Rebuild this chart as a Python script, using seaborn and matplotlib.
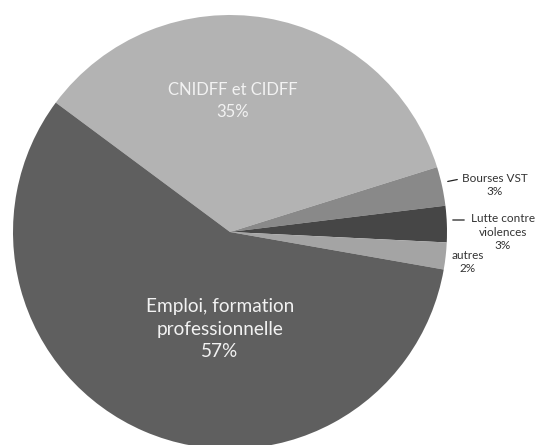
import seaborn as sns
import matplotlib.pyplot as plt

# Repartition (parts)
categories = ['CNIDFF et CIDFF', 'Bourses VST', 'Lutte contre\nviolences', 'autres',
              'Emploi, formation\nprofessionnelle']
values = [35.0, 2.9, 2.7, 2.0, 57.4]
pct_labels = ['35%', '3%', '3%', '2%', '57%']
colors = ['#b3b3b3', '#898989', '#464646', '#a4a4a4', '#5f5f5f']

sns.set_theme(style='white')
plt.rcParams['font.family'] = ['Lato', 'DejaVu Sans']

fig = plt.figure(figsize=(5.41, 4.45), dpi=100)
ax = fig.add_axes([0, 0, 1, 1])

wedges, _ = ax.pie(values, colors=colors, startangle=143.4, counterclock=False,
                   center=(230, 213), radius=217,
                   wedgeprops=dict(linewidth=0, antialiased=True))
ax.set_xlim(0, 541)
ax.set_ylim(0, 445)
ax.set_aspect('equal')
ax.axis('off')

# inside labels
ax.text(233, 344, categories[0] + '\n' + pct_labels[0], ha='center', va='center',
        color='#f2f2f2', fontsize=12, linespacing=1.45)
ax.text(220, 116, categories[4] + '\n' + pct_labels[4], ha='center', va='center',
        color='#f2f2f2', fontsize=13.7, linespacing=1.4)

# outside labels
small = dict(ha='center', va='center', color='#333333', fontsize=8.5, linespacing=1.3)
ax.text(495, 260, categories[1] + '\n' + pct_labels[1], **small)
ax.text(503, 213, categories[2] + '\n' + pct_labels[2], **small)
ax.text(468, 183, categories[3] + '\n' + pct_labels[3], **small)

# leader lines
ax.annotate('', xy=(445, 263), xytext=(460, 266),
            arrowprops=dict(arrowstyle='-', color='#222222', lw=0.9))
ax.annotate('', xy=(450, 225), xytext=(467, 225),
            arrowprops=dict(arrowstyle='-', color='#222222', lw=0.9))

fig.savefig('out.png', dpi=100)
